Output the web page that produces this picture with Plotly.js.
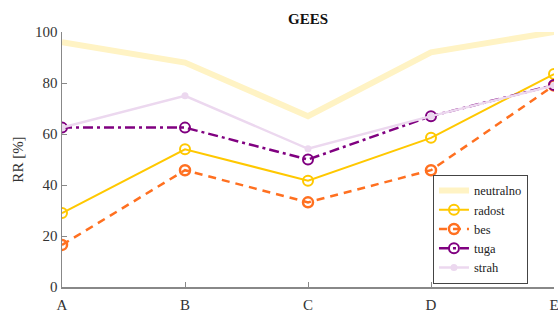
<!DOCTYPE html>
<html><head><meta charset="utf-8">
<script src="https://cdn.plot.ly/plotly-3.0.1.min.js"></script>
<style>body{margin:0;padding:0;background:#fff}#chart{width:558px;height:311px}</style>
</head><body><div id="chart"></div>
<script>
const categories = ["A","B","C","D","E"];
const neutralno = [96, 88, 67, 92, 100];
const radost = [29, 54, 41.7, 58.5, 83.5];
const bes = [16.5, 45.8, 33.2, 45.8, 79];
const tuga = [62.5, 62.5, 50, 67, 79.2];
const strah = [62.5, 75, 54.2, 67, 79];
const yTicks = [0, 20, 40, 60, 80, 100];

const xs = categories.map((c,i)=>i);
const traces = [
  {name:"neutralno", x:xs, y:neutralno, mode:"lines", line:{color:"#FFF3C4", width:6}},
  {name:"radost", x:xs, y:radost, mode:"lines+markers", line:{color:"#FFC800", width:2},
   marker:{symbol:"circle-open", size:10, color:"#FFC800", line:{width:2, color:"#FFC800"}}},
  {name:"bes", x:xs, y:bes, mode:"lines+markers", line:{color:"#FF7020", width:2.5, dash:"8px,6px"},
   marker:{symbol:"circle-open", size:10, color:"#FF7020", line:{width:2.5, color:"#FF7020"}}},
  {name:"tuga", x:xs, y:tuga, mode:"lines+markers", line:{color:"#800080", width:2.5, dash:"10px,4px,3px,4px"},
   marker:{symbol:"circle-open", size:10, color:"#800080", line:{width:2, color:"#800080"}}},
  {name:"strah", x:xs, y:strah, mode:"lines+markers", line:{color:"#ECD8EF", width:2.5},
   marker:{symbol:"circle", size:7, color:"#ECD8EF"}}
];
const fam = "Liberation Serif";
const layout = {
  width:558, height:311,
  margin:{l:62, r:4, t:32, b:24},
  paper_bgcolor:"#fff", plot_bgcolor:"#fff",
  font:{family:fam, color:"#333", size:14},
  showlegend:true,
  title:{text:"<b>GEES</b>", xref:"paper", x:0.5, xanchor:"center", y:0.94, yanchor:"middle", font:{family:fam, size:15, color:"#111"}},
  xaxis:{range:[0,4], tickmode:"array", tickvals:xs, ticktext:categories, ticks:"inside", ticklen:5,
    tickcolor:"#888", showline:true, linecolor:"#888", linewidth:1.5, showgrid:false, zeroline:false,
    ticklabeloverflow:"allow", ticklabelstandoff:3,
    tickfont:{family:fam, size:15, color:"#333"}},
  yaxis:{range:[0,100], tickmode:"array", tickvals:yTicks, ticks:"inside", ticklen:5,
    tickcolor:"#888", showline:true, linecolor:"#888", linewidth:1.5, showgrid:false, zeroline:false,
    tickfont:{family:fam, size:15, color:"#333"},
    title:{text:"RR [%]", font:{family:fam, size:15, color:"#333"}, standoff:8}},
  legend:{x:0.754, y:0.226, xanchor:"left", yanchor:"middle", bgcolor:"#fff", bordercolor:"#444", borderwidth:1,
    font:{family:fam, size:12.5, color:"#222"}, tracegroupgap:0, itemwidth:30}
};
Plotly.newPlot("chart", traces, layout, {displayModeBar:false, staticPlot:true});
</script></body></html>
